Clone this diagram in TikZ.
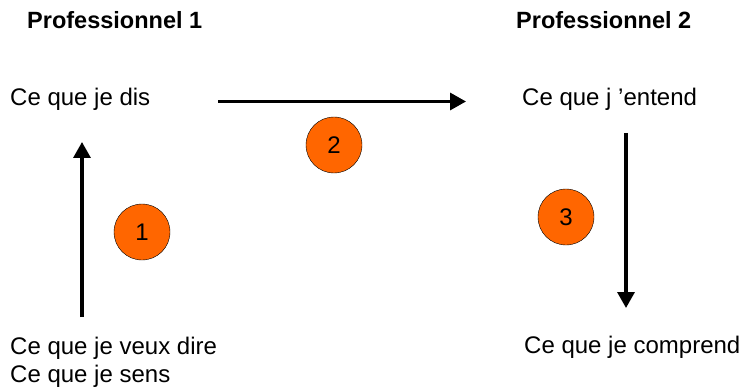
\documentclass[tikz,border=0pt]{standalone}
\usepackage{fontspec}
\setmainfont{Liberation Sans}
\usetikzlibrary{arrows.meta}
\definecolor{stepcolor}{HTML}{FF6600}
\tikzstyle{textline} = [anchor=base west, inner sep=0pt, font=\fontsize{24}{28}\selectfont]
\tikzstyle{title} = [anchor=base west, inner sep=0pt, font=\fontsize{23.5}{28}\selectfont\bfseries]
\tikzstyle{stepnum} = [circle, draw, thin, fill=stepcolor, minimum size=56pt, inner sep=0pt, font=\fontsize{24}{26}\selectfont]
\tikzstyle{flow} = [-{Triangle[length=16pt, width=17pt]}, line width=3.3pt]

\begin{document}
\begin{tikzpicture}[x=1pt, y=-1pt]
   \useasboundingbox (0,0) rectangle (743,390);
   % titles
   \node[title] (p1) at (27,29)                 {Professionnel 1};
   \node[title] (p2) at (516,29)                {Professionnel 2};
   % texts
   \node[textline] (dis) at (10,106)            {Ce que je dis};
   \node[textline] (entend) at (522,106)        {Ce que j 'entend};
   \node[textline] (veux) at (10,354)           {Ce que je veux dire};
   \node[textline] (sens) at (10,382)           {Ce que je sens};
   \node[textline] (comprend) at (524,353)      {Ce que je comprend};
   % numbers
   \node[stepnum] (n1) at (142,232)             {1};
   \node[stepnum] (n2) at (334,145)             {2};
   \node[stepnum] (n3) at (566,217)             {3};
   % end points
   \coordinate (a1) at (82,317);
   \coordinate (b1) at (82,142);
   \coordinate (a2) at (218,101.5);
   \coordinate (b2) at (466,101.5);
   \coordinate (a3) at (626,133);
   \coordinate (b3) at (626,308);

   % edges
   \draw[flow] (a1) to (b1);
   \draw[flow] (a2) to (b2);
   \draw[flow] (a3) to (b3);
\end{tikzpicture}
\end{document}
